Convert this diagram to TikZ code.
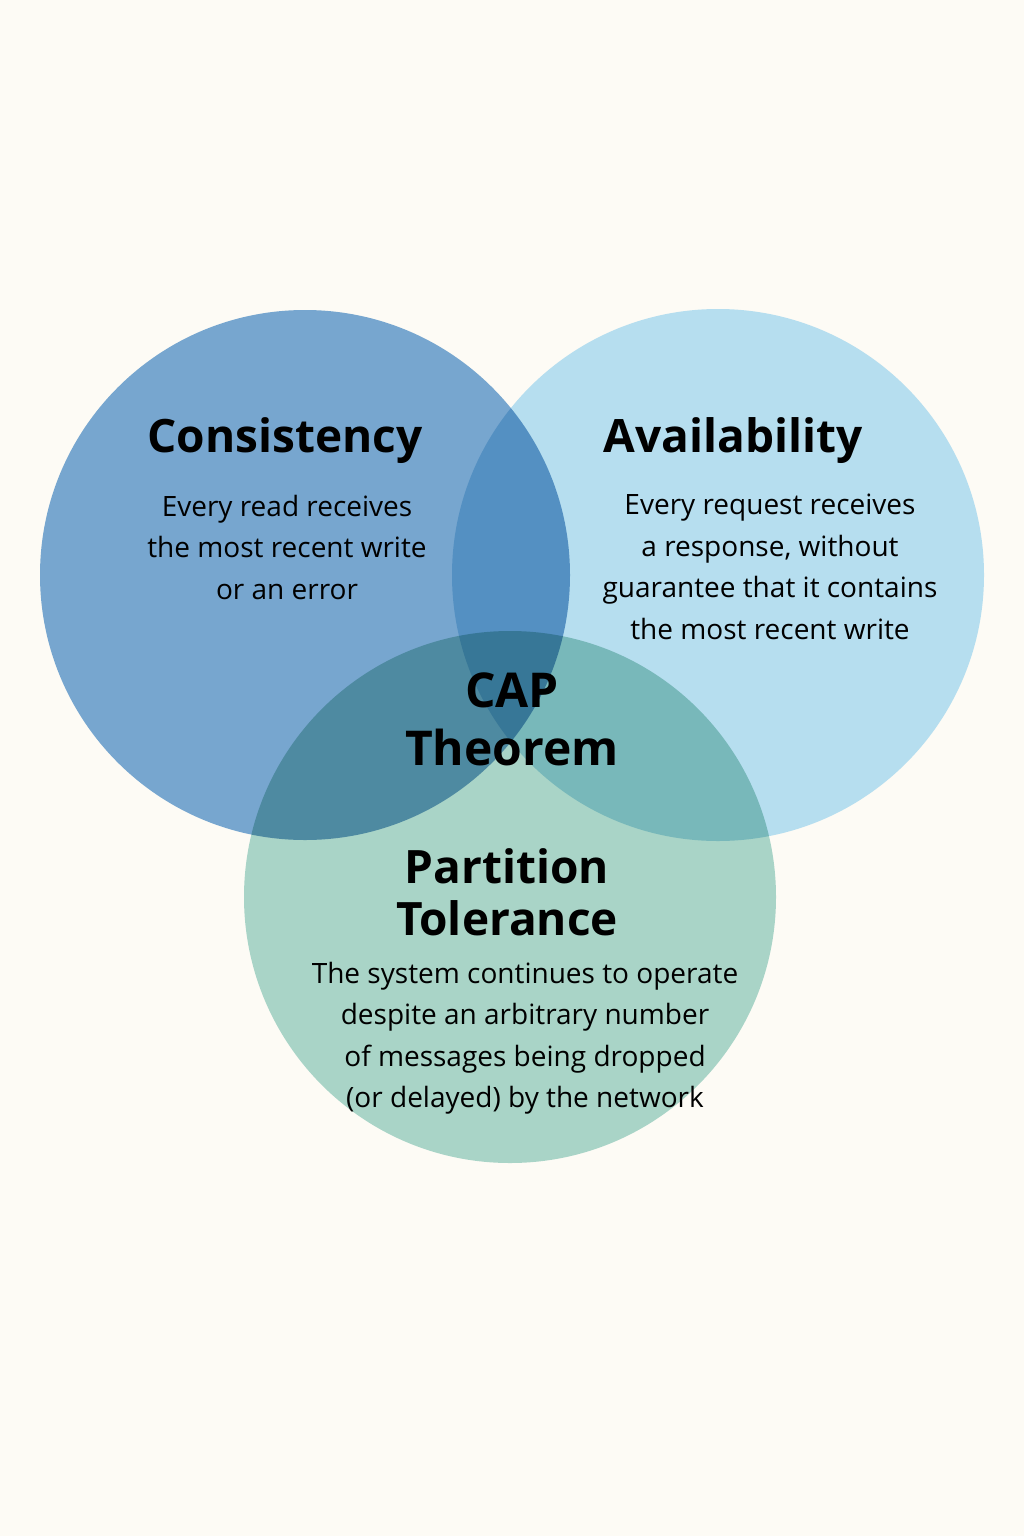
\documentclass[tikz,border=0pt]{standalone}
\usepackage{fontspec}
\setmainfont{Open Sans}
\begin{document}
\begin{tikzpicture}[x=1pt,y=-1pt,
  ttl/.style={font=\fontsize{46}{52}\selectfont\bfseries, align=center},
  body/.style={font=\fontsize{28}{41.5}\selectfont, align=center}]
\definecolor{bg}{HTML}{FDFBF5}
\definecolor{cc}{HTML}{77A6CF}
\definecolor{ac}{HTML}{B6DEEF}
\definecolor{pc}{HTML}{A9D4C7}
\fill[bg] (0,0) rectangle (1024,1536);
\useasboundingbox (0,0) rectangle (1024,1536);
\begin{scope}[blend group=multiply]
\fill[cc] (305,575) circle (265) coordinate (c);
\fill[ac] (718,575) circle (266) coordinate (a);
\fill[pc] (510,897) circle (266) coordinate (p);
\end{scope}
\node[ttl] (ct) at (285,441) {Consistency};
\node[body] (cb) at (287,547) {Every read receives\\the most recent write\\or an error};
\node[ttl] (at) at (733,441) {Availability};
\node[body] (ab) at (770,567) {Every request receives\\a response, without\\guarantee that it contains\\the most recent write};
\node[ttl, font=\fontsize{48}{58}\selectfont\bfseries] (cap) at (512,719) {CAP\\Theorem};
\node[ttl] (pt) at (507,892) {Partition\\Tolerance};
\node[body] (pb) at (525,1038) {The system continues to operate\\despite an arbitrary number\\of messages being dropped\\(or delayed) by the network};
\end{tikzpicture}
\end{document}
